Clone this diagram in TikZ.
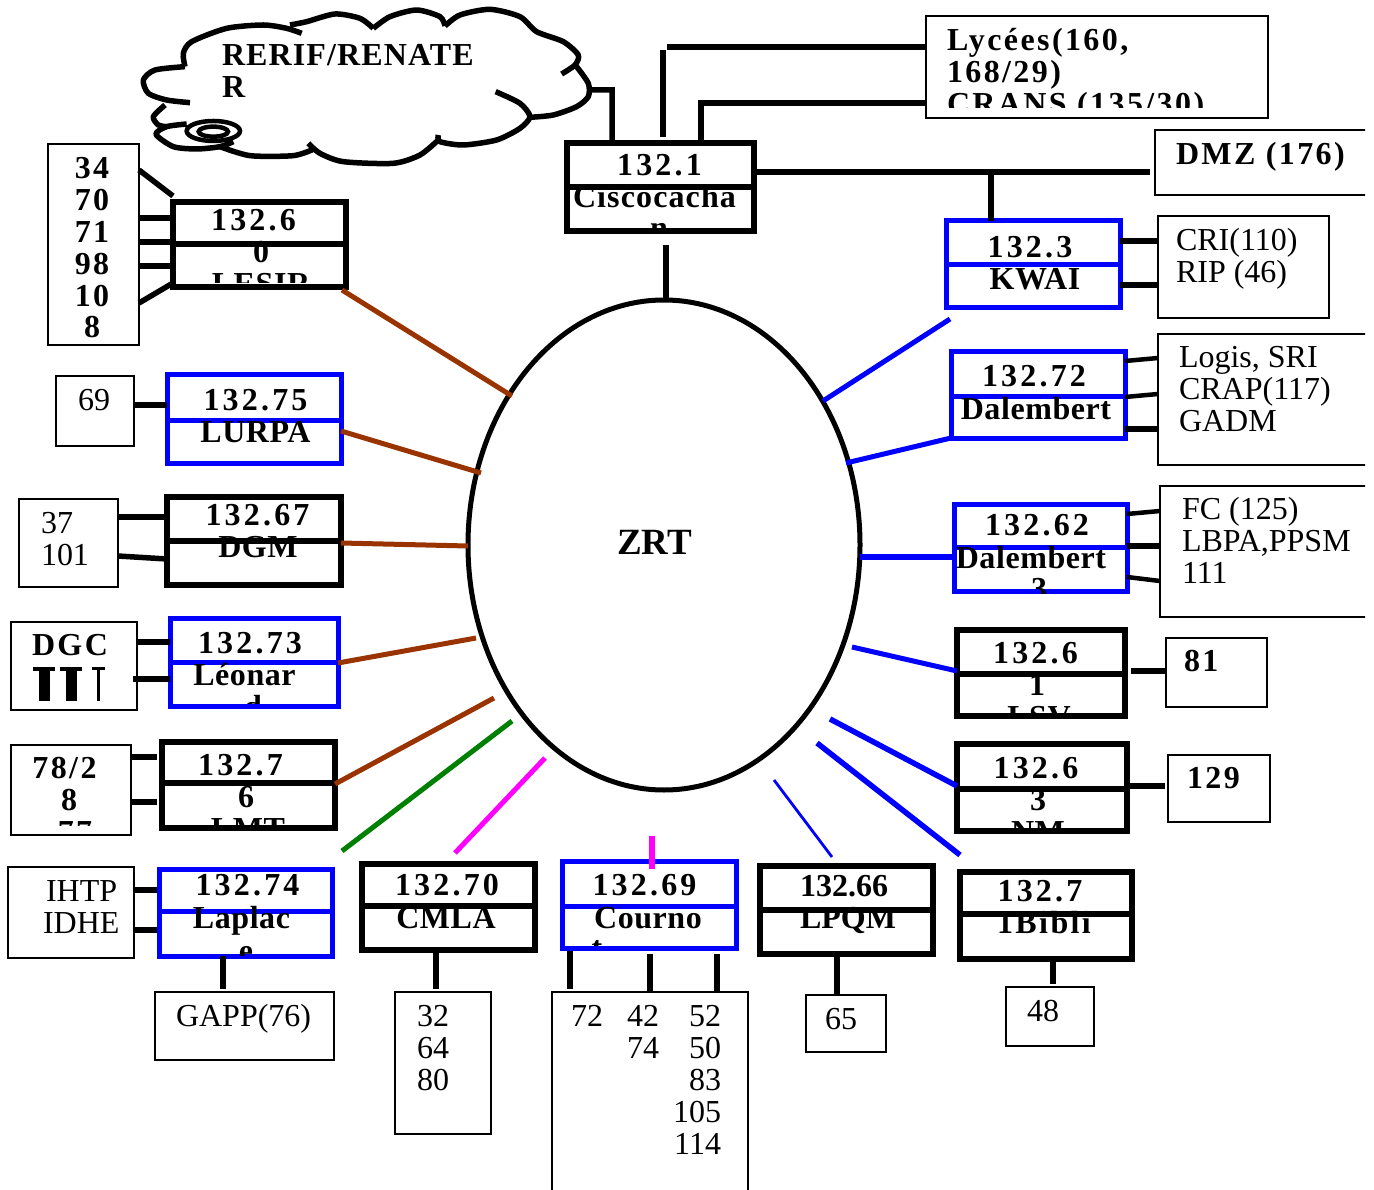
\documentclass[tikz,border=0pt]{standalone}
\usepackage{fontspec}
\usetikzlibrary{fit,shapes.geometric}
\setmainfont{Liberation Serif}
\newfontfamily\sbf[LetterSpace=7.5,UprightFont=* Bold]{Liberation Serif}
\newfontfamily\numf[LetterSpace=10,UprightFont=* Bold]{Liberation Serif}
\newfontfamily\namf[LetterSpace=1.8,UprightFont=* Bold]{Liberation Serif}
\newfontfamily\cldf[LetterSpace=3.5,UprightFont=* Bold]{Liberation Serif}
\newfontfamily\pbf[UprightFont=* Bold]{Liberation Serif}
\newcommand\lsh{\rule{0pt}{24pt}}
\definecolor{mybrown}{HTML}{993300}
\definecolor{myblue}{HTML}{0000FF}
\definecolor{mygreen}{HTML}{008000}
\definecolor{mymag}{HTML}{FF00FF}
\tikzset{
  thinbox/.style={draw=black,line width=2.2pt,inner sep=0pt,outer sep=0pt},
  rblack/.style={draw=black,line width=5.5pt,inner sep=0pt,outer sep=0pt},
  rblue/.style={draw=myblue,line width=5pt,inner sep=0pt,outer sep=0pt},
  wire/.style={draw=black,line width=5.5pt},
  wthin/.style={draw=black,line width=4.5pt},
  bwire/.style={draw=mybrown,line width=5pt},
  lwire/.style={draw=myblue,line width=5pt},
  lbl/.style={inner sep=0pt,outer sep=0pt,yshift=24pt,anchor=north west,align=left},
  nm/.style={lbl,font=\fontsize{32}{32}\selectfont},
  sb/.style={lbl,font=\fontsize{32}{32}\sbf},
  sc/.style={sb,anchor=north,align=center},
  nu/.style={lbl,anchor=north,font=\fontsize{32}{32}\numf},
  na/.style={lbl,anchor=north,font=\fontsize{32}{32}\namf},
  pb/.style={lbl,font=\fontsize{32}{32}\pbf},
  cloudline/.style={line width=5.5pt,line join=round,smooth,tension=.45},
}
\newcommand\fbx[4]{\node[#1,fit={(#3)(#4)}] (#2) {};}
\newcommand\rtr[5]{\fbx{#1}{#2}{#3}{#4}\draw[#1] (#2.west |- 0,#5) -- (#2.east |- 0,#5);}
\newcommand\ctxt[5]{\begin{scope}\clip (0,0) rectangle (1374,#1);\node[#2] (#3) at (#4) {\lsh #5};\end{scope}}
\begin{document}
\begin{tikzpicture}[x=1pt,y=-1pt]
\useasboundingbox (0,0) rectangle (1374,1190);
\clip (0,0) rectangle (1365,1190);
% --- ring
\node[draw=black,line width=5pt,ellipse,inner sep=0pt,outer sep=0pt,minimum width=392pt,minimum height=490pt] (zrt) at (664,545) {};
\node[lbl,font=\fontsize{37}{37}\pbf] (zrtl) at (617,554) {\lsh ZRT};
% --- cloud
\begin{scope}[shift={(130,0)},x=0.3333pt,y=-0.3333pt]
\draw[cloudline] plot coordinates {(165,200)(75,210)(40,240)(55,280)(110,300)(180,308)};
\draw[cloudline] plot coordinates {(165,200)(160,160)(185,125)(290,85)(400,75)(470,85)(515,100)};
\draw[cloudline] plot coordinates {(480,75)(530,65)(615,42)(690,55)(730,85)};
\draw[cloudline] plot coordinates {(730,85)(780,50)(860,30)(930,50)(945,78)};
\draw[cloudline] plot coordinates {(945,78)(990,45)(1080,28)(1170,50)(1220,95)(1300,125)(1345,165)(1335,195)(1295,222)};
\draw[cloudline] plot coordinates {(1340,200)(1375,250)(1375,290)(1340,320)(1270,345)(1200,352)};
\draw[cloudline] plot coordinates {(1097,275)(1170,310)(1200,350)(1170,385)(1100,420)(1000,435)(930,425)(925,405)};
\draw[cloudline] plot coordinates {(925,420)(870,465)(790,490)(640,485)(570,460)(535,430)};
\draw[cloudline] plot coordinates {(550,448)(490,467)(360,467)(270,440)};
\draw[cloudline] plot coordinates {(105,315)(70,350)(85,375)(110,380)};
\draw[cloudline] plot coordinates {(170,372)(110,380)(78,403)(130,440)(200,447)(270,440)(310,425)};
\draw[line width=4.5pt,fill=white] (250,393) ellipse [x radius=80,y radius=30];
\draw[line width=4.5pt] (250,395) ellipse [x radius=44,y radius=15];
\coordinate (cloudr) at (1375,270);
\end{scope}
\ctxt{105}{lbl,font=\fontsize{32}{32}\cldf}{cloudt}{222,66}{RERIF/RENATE\\R}
% --- router boxes
\rtr{rblack}{cisco}{567,143}{754,231}{187}
\rtr{rblue}{kwai}{946,221}{1120,308}{265}
\rtr{rblue}{b72}{951,352}{1125,438}{396}
\rtr{rblue}{b62}{954,504}{1127,591}{547}
\rtr{rblack}{b61}{957,630}{1125,716}{674}
\rtr{rblack}{b63}{957,744}{1127,831}{789}
\rtr{rblack}{b71}{960,872}{1132,959}{914}
\rtr{rblack}{b66}{760,866}{933,954}{910}
\rtr{rblue}{b69}{562,861}{736,948}{906}
\rtr{rblack}{b70}{362,864}{535,950}{906}
\rtr{rblack}{b60}{173,202}{346,287}{244}
\rtr{rblue}{b75}{167,375}{341,463}{420}
\rtr{rblack}{b67}{167,497}{341,585}{541}
\rtr{rblue}{b73}{170,618}{338,706}{662}
\rtr{rblack}{b76}{162,742}{335,828}{783}
\rtr{rblue}{b74}{159,869}{332,956}{911}
% --- thin boxes
\fbx{thinbox}{lyc}{926,16}{1268,118}
\fbx{thinbox}{dmz}{1155,130}{1400,195}
\fbx{thinbox}{cri}{1158,216}{1329,318}
\fbx{thinbox}{logis}{1158,334}{1400,465}
\fbx{thinbox}{fc}{1160,486}{1400,617}
\fbx{thinbox}{n81}{1166,638}{1267,707}
\fbx{thinbox}{n129}{1168,755}{1270,822}
\fbx{thinbox}{n48}{1006,987}{1094,1046}
\fbx{thinbox}{n65}{806,995}{886,1052}
\fbx{thinbox}{nc}{552,992}{748,1260}
\fbx{thinbox}{n32}{395,992}{491,1134}
\fbx{thinbox}{gapp}{155,992}{334,1060}
\fbx{thinbox}{ihtp}{8,867}{134,958}
\fbx{thinbox}{n78}{11,745}{131,835}
\fbx{thinbox}{dgc}{11,622}{137,710}
\fbx{thinbox}{n37}{19,499}{118,587}
\fbx{thinbox}{n69}{56,376}{134,446}
\fbx{thinbox}{n34}{48,144}{139,345}
% --- black wires at the top
\draw[wire] (cloudr) -- (612,90) -- (cisco.north -| 612,0);
\coordinate (lycv) at (663,50);
\coordinate (lych) at (667,47);
\draw[wire] (lych) -- (lyc.west |- lych);
\draw[wire] (lycv) -- (663,137);
\coordinate (crv) at (701,103);
\draw[wire] (lyc.west |- crv) -- (crv) -- (cisco.north -| crv);
\coordinate (dmzend) at (1150,172);
\draw[wire] (cisco.east |- dmzend) -- (dmzend);
\draw[wire] (kwai.north -| 991,0) -- (991,172);
\coordinate (ciscod) at (666,245);
\draw[wire] (ciscod) -- (zrt.north -| ciscod);
% --- right side stubs
\draw[wire] (kwai.east |- 0,241) -- (cri.west |- 0,241);
\draw[wire] (kwai.east |- 0,285) -- (cri.west |- 0,285);
\draw[wthin] (b72.east |- 0,361) -- (logis.west |- 0,358);
\draw[wthin] (b72.east |- 0,397) -- (logis.west |- 0,394);
\draw[wire] (b72.east |- 0,429) -- (logis.west |- 0,429);
\draw[wthin] (b62.east |- 0,514) -- (fc.west |- 0,511);
\draw[wire] (b62.east |- 0,546) -- (fc.west |- 0,546);
\draw[wthin] (b62.east |- 0,577) -- (fc.west |- 0,581);
\coordinate (s81) at (1131,671);
\draw[wire] (s81) -- (n81.west |- s81);
\coordinate (s129) at (1130,786);
\coordinate (e129) at (1165,786);
\draw[wire] (s129) -- (e129);
\coordinate (e48) at (1053,984);
\draw[wire] (b71.south -| e48) -- (e48);
\coordinate (s65) at (837,954);
\draw[wire] (s65) -- (n65.north -| s65);
% --- bottom stubs
\coordinate (e32) at (436,989);
\draw[wire] (b70.south -| e32) -- (e32);
\coordinate (sc1) at (570,951);
\coordinate (ec1) at (570,989);
\draw[wire] (sc1) -- (ec1);
\coordinate (sc2) at (650,954);
\draw[wire] (sc2) -- (nc.north -| sc2);
\coordinate (sc3) at (717,954);
\draw[wire] (sc3) -- (nc.north -| sc3);
\coordinate (e76) at (223,989);
\draw[wire] (b74.south -| e76) -- (e76);
% --- left side stubs
\draw[wire] (139,170) -- (173,196);
\draw[wire] (n34.east |- 0,218) -- (b60.west |- 0,218);
\draw[wire] (n34.east |- 0,242) -- (b60.west |- 0,242);
\draw[wire] (n34.east |- 0,266) -- (b60.west |- 0,266);
\draw[wire] (n34.east |- 0,303) -- (b60.west |- 0,283);
\coordinate (s69) at (133,405);
\draw[wire] (s69) -- (b75.west |- s69);
\draw[wire] (n37.east |- 0,517) -- (b67.west |- 0,517);
\draw[wire] (n37.east |- 0,556) -- (b67.west |- 0,559);
\draw[wire] (dgc.east |- 0,642) -- (b73.west |- 0,642);
\coordinate (s79) at (133,679);
\draw[wire] (s79) -- (b73.west |- s79);
\coordinate (e7a) at (157,757);
\coordinate (e7b) at (157,802);
\draw[wire] (n78.east |- e7a) -- (e7a);
\draw[wire] (n78.east |- e7b) -- (e7b);
\coordinate (e4a) at (157,890);
\coordinate (e4b) at (157,930);
\draw[wire] (ihtp.east |- e4a) -- (e4a);
\draw[wire] (ihtp.east |- e4b) -- (e4b);
% --- ring links
\coordinate (s60) at (342,290);
\coordinate (z60) at (512,396);
\draw[bwire] (s60) -- (z60);
\coordinate (z75) at (481,473);
\draw[bwire] (b75.east |- 0,431) -- (z75);
\draw[bwire] (b67.east |- 0,543) -- (zrt.west |- 0,546);
\coordinate (z73) at (476,638);
\draw[bwire] (b73.east |- 0,663) -- (z73);
\coordinate (zlmt) at (494,698);
\draw[bwire] (b76.east |- 0,784) -- (zlmt);
\coordinate (g1) at (512,721);
\coordinate (g2) at (342,851);
\draw[draw=mygreen,line width=5pt] (g1) -- (g2);
\coordinate (m1) at (545,758);
\coordinate (m2) at (455,853);
\draw[draw=mymag,line width=5pt] (m1) -- (m2);
\coordinate (m3) at (652,836);
\coordinate (m4) at (652,869);
\draw[draw=mymag,line width=5.5pt] (m3) -- (m4);
\coordinate (k1) at (950,319);
\coordinate (zk) at (823,401);
\draw[lwire] (k1) -- (zk);
\coordinate (z72) at (846,463);
\draw[lwire] (b72.south west) -- (z72);
\draw[lwire,line width=5.5pt] (b62.west |- 0,557) -- (zrt.east |- 0,557);
\coordinate (z61) at (852,647);
\draw[lwire] (b61.west |- 0,671) -- (z61);
\coordinate (z63) at (830,719);
\draw[lwire,line width=5.5pt] (b63.west |- 0,786) -- (z63);
\coordinate (z71a) at (817,743);
\coordinate (z71b) at (960,855);
\draw[lwire,line width=5.5pt] (z71a) -- (z71b);
\coordinate (z66a) at (774,780);
\coordinate (z66b) at (832,857);
\draw[draw=myblue,line width=2.8pt] (z66a) -- (z66b);
% --- DGC second line, cut stems
\fill (33,667) rectangle (55,671);
\fill (39,667) rectangle (50,701);
\fill (60,667) rectangle (82,671);
\fill (66,667) rectangle (77,701);
\fill (92,667) rectangle (105,669.5);
\fill (97,667) rectangle (100,701);
% --- labels
\ctxt{108}{sb}{tlyc}{947,51}{Lycées(160,\\168/29)\\CRANS (135/30)}
\ctxt{190}{sb}{tdmz}{1176,165}{DMZ (176)}
\ctxt{316}{nm}{tcri}{1176,251}{CRI(110)\\RIP (46)}
\ctxt{460}{nm}{tlog}{1179,367}{Logis, SRI\\CRAP(117)\\GADM}
\ctxt{612}{nm}{tfc}{1182,519}{FC (125)\\LBPA,PPSM\\111}
\ctxt{704}{sb}{t81}{1184,671}{81}
\ctxt{820}{sb}{t129}{1187,788}{129}
\ctxt{1040}{nm}{t48}{1027,1021}{48}
\ctxt{1048}{nm}{t65}{825,1029}{65}
\ctxt{1130}{nm}{t32}{417,1026}{32\\64\\80}
\ctxt{1188}{nm}{tc1}{571,1026}{72}
\ctxt{1188}{nm}{tc2}{627,1026}{42\\74}
\ctxt{1188}{nm,anchor=north east,align=right}{tc3}{721,1026}{52\\50\\83\\105\\114}
\ctxt{1056}{nm}{tgapp}{176,1026}{GAPP(76)}
\ctxt{954}{nm}{tihtp}{46,901}{IHTP}
\ctxt{954}{nm}{tidhe}{43,933}{IDHE}
\ctxt{825}{sc}{t78}{64.5,778}{78/2}
\ctxt{825}{sc}{t78b}{69,810}{8}
\ctxt{825}{sc}{t78c}{75,842}{77}
\ctxt{705}{sb}{tdgc}{32,655}{DGC}
\ctxt{583}{nm}{t37}{41,533}{37\\101}
\ctxt{442}{nm}{t69}{78,410}{69}
\ctxt{342}{sc}{t34}{92,178}{34\\70\\71\\98\\10\\8}
\ctxt{230}{nu}{tcisco}{659.5,176}{132.1}
\ctxt{230}{na,font=\fontsize{32}{32}\cldf}{tcisco2}{654.5,208}{Ciscocacha}
\ctxt{230}{na}{tcisco3}{659,239}{n}
\ctxt{304}{nu}{tkwai}{1030,258}{132.3}
\ctxt{304}{na}{tkwai2}{1035,290}{KWAI}
\ctxt{436}{nu}{tb72}{1034,386}{132.72}
\ctxt{436}{na}{tb72b}{1036,419}{Dalembert}
\ctxt{593}{nu}{tb62}{1037,535}{132.62}
\ctxt{593}{na}{tb62b}{1031,568}{Dalembert}
\ctxt{593}{na}{tb62c}{1039,599}{3}
\ctxt{713}{nu}{tb61}{1035.5,663}{132.6}
\ctxt{713}{na}{tb61b}{1037,695}{1}
\ctxt{713}{na}{tb61c}{1039,727}{LSV}
\ctxt{828}{nu}{tb63}{1036,778}{132.6}
\ctxt{828}{na}{tb63b}{1038,810}{3}
\ctxt{828}{na}{tb63c}{1038,842}{NM}
\ctxt{955}{nu}{tb71}{1040,901}{132.7}
\ctxt{955}{sc}{tb71b}{1044,933}{1Bibli}
\ctxt{950}{pb}{tb66}{800,896}{132.66}
\ctxt{950}{pb}{tb66b}{800,928}{LPQM}
\ctxt{945}{nu}{tb69}{644.5,895}{132.69}
\ctxt{945}{na}{tb69b}{648,928}{Courno}
\ctxt{945}{na}{tb69c}{597,958}{t}
\ctxt{947}{nu}{tb70}{447,895}{132.70}
\ctxt{947}{na}{tb70b}{446,928}{CMLA}
\ctxt{283}{nu}{tb60}{253.5,231}{132.6}
\ctxt{283}{na}{tb60b}{261,263}{0}
\ctxt{283}{na}{tb60c}{261,295}{LESIR}
\ctxt{460}{nu}{tb75}{255.5,410}{132.75}
\ctxt{460}{na}{tb75b}{255.5,442}{LURPA}
\ctxt{582}{nu}{tb67}{257.5,525}{132.67}
\ctxt{582}{na}{tb67b}{258,557}{DGM}
\ctxt{703}{nu}{tb73}{250,653}{132.73}
\ctxt{703}{na}{tb73b}{244.5,685}{Léonar}
\ctxt{703}{na}{tb73c}{253,717}{d}
\ctxt{825}{nu}{tb76}{240.5,775}{132.7}
\ctxt{825}{na}{tb76b}{246,807}{6}
\ctxt{825}{na}{tb76c}{248,839}{LMT}
\ctxt{955}{nu}{tb74}{247.5,895}{132.74}
\ctxt{955}{na}{tb74b}{241.5,928}{Laplac}
\ctxt{955}{na}{tb74c}{246,961}{e}
\end{tikzpicture}
\end{document}
